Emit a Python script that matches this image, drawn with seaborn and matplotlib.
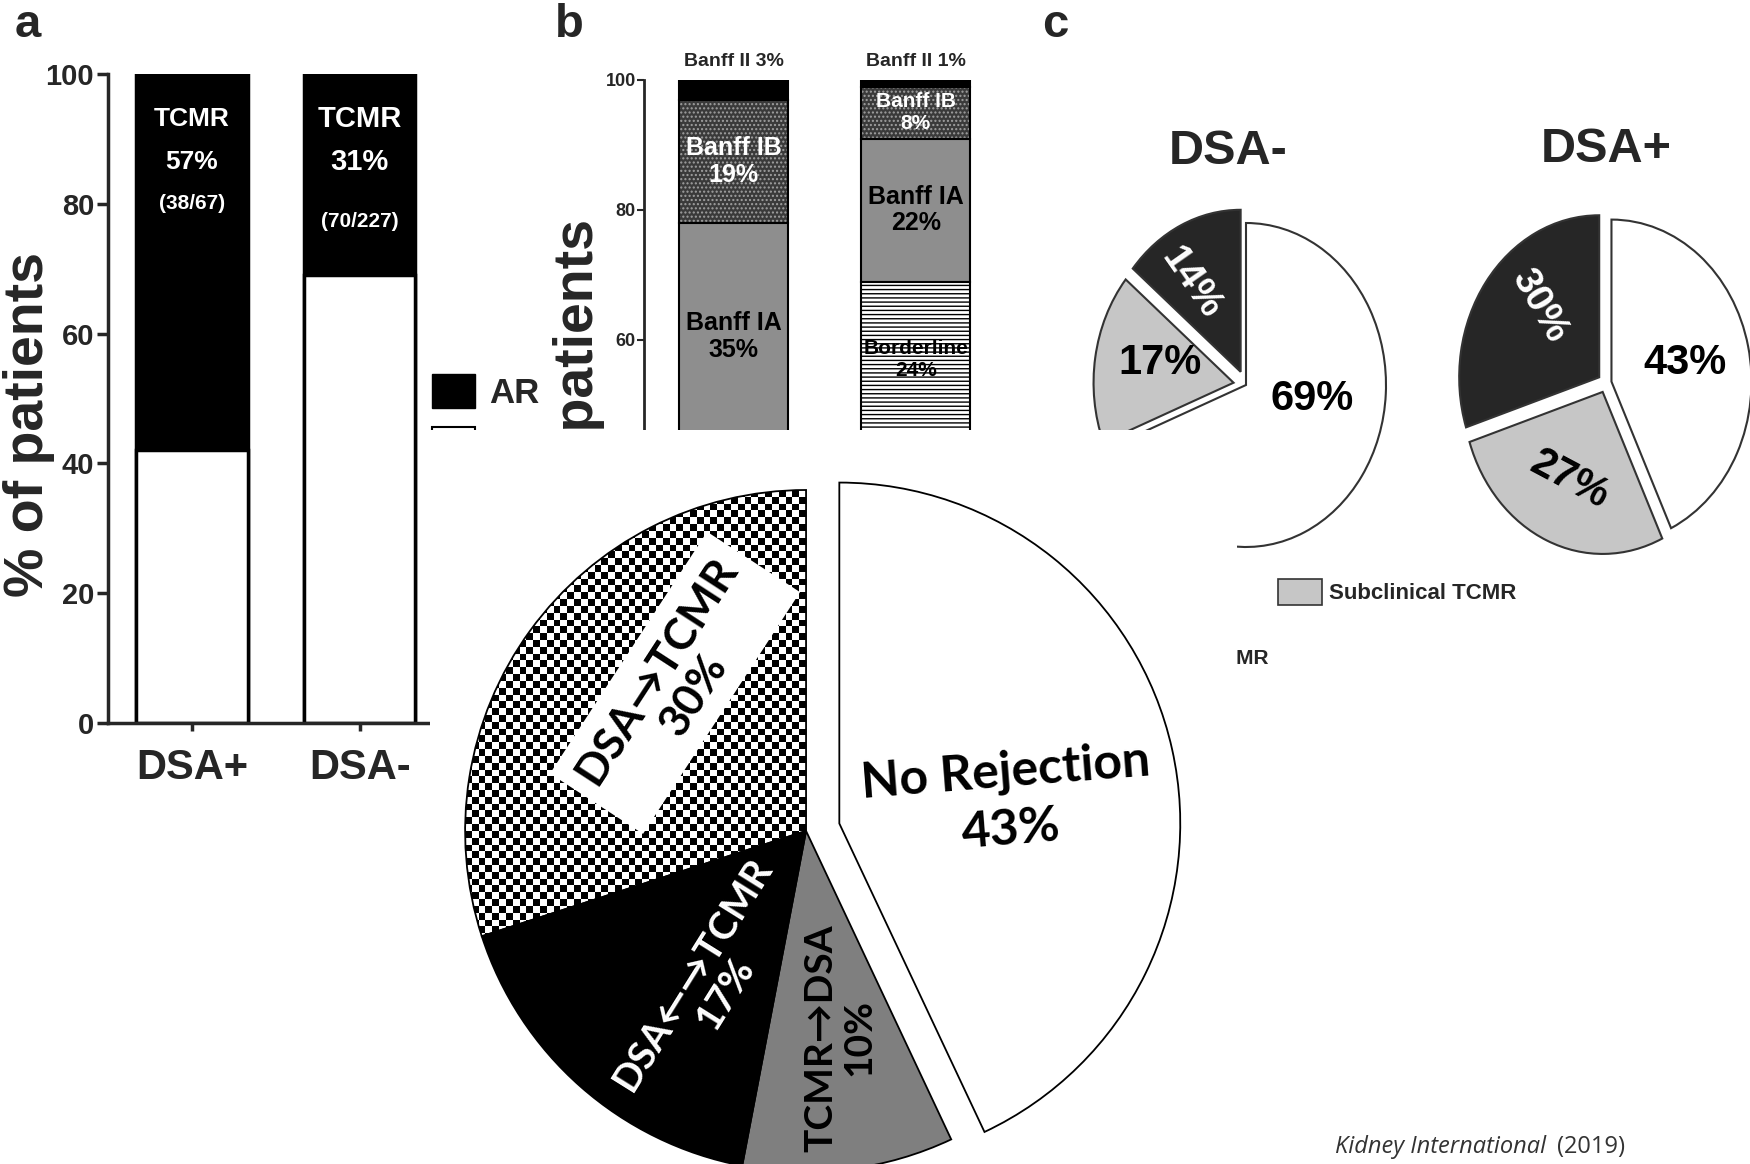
import numpy as np
import matplotlib
matplotlib.use("Agg")
import matplotlib.pyplot as plt
from matplotlib.patches import Patch
import seaborn as sns

# ---- panel a: acute rejection by DSA status ----
a_groups = ["DSA+", "DSA-"]
a_ar = [58, 31]
a_no_ar = [42, 69]
a_tcmr_pct = ["57%", "31%"]
a_tcmr_frac = ["(38/67)", "(70/227)"]

# ---- panel b: Banff grades, stacked from the top ----
b_groups = ["DSA+", "DSA-"]
b_grades = ["Banff II", "Banff IB", "Banff IA", "Borderline"]
b_dsa_pos = [3, 19, 35, 0]
b_dsa_neg = [1, 8, 22, 24]

# ---- panel c: clinical / subclinical TCMR ----
c_groups = ["DSA-", "DSA+"]
c_labels = ["No rejection", "Subclinical TCMR", "Clinical TCMR"]
c_dsa_neg = [69, 17, 14]
c_dsa_pos = [43, 27, 30]

# ---- big pie: sequence of DSA and TCMR ----
big_labels = ["No Rejection", "TCMR\u2192DSA", "DSA\u2190\u2192TCMR", "DSA\u2192TCMR"]
big_values = [43, 10, 17, 30]

sns.set_style("ticks")
plt.rcParams["font.family"] = ["Liberation Sans", "DejaVu Sans"]
plt.rcParams["font.weight"] = "bold"
plt.rcParams["axes.labelweight"] = "bold"
NARROW = ["Liberation Sans Narrow", "Liberation Sans", "DejaVu Sans"]
CALI = ["Lato", "DejaVu Sans"]

W, H = 1750, 1164
fig = plt.figure(figsize=(W / 100, H / 100), dpi=100)


def px_axes(x0, y0, x1, y1):
    return fig.add_axes([x0 / W, 1 - y1 / H, (x1 - x0) / W, (y1 - y0) / H])


def wedge_point(w, r, dtheta=0):
    ang = np.deg2rad((w.theta1 + w.theta2) / 2 + dtheta)
    cx, cy = w.center
    return cx + r * w.r * np.cos(ang), cy + r * w.r * np.sin(ang)


# ================= panel a =================
ax_a = px_axes(108, 74, 430, 723)
a_total = [r + n for r, n in zip(a_ar, a_no_ar)]
sns.barplot(x=a_groups, y=a_total, color="black", saturation=1, width=0.667,
            edgecolor="black", linewidth=2.5, errorbar=None, ax=ax_a)
sns.barplot(x=a_groups, y=a_no_ar, color="white", saturation=1, width=0.667,
            edgecolor="black", linewidth=2.5, errorbar=None, ax=ax_a)
ax_a.set_xlim(-0.5, 1.42)
ax_a.set_ylim(0, 100)
ax_a.set_yticks(range(0, 101, 20))
sns.despine(ax=ax_a)
for s in ["left", "bottom"]:
    ax_a.spines[s].set_linewidth(2.5)
ax_a.tick_params(axis="y", length=8, width=2.5, labelsize=21, pad=2)
ax_a.tick_params(axis="x", length=6, width=2.5, labelsize=30, pad=12)
ax_a.set_ylabel("% of patients", fontsize=40)
ax_a.yaxis.set_label_coords(-0.165, 0.46)
for i, tot in enumerate(a_total):
    big = 19 if i == 0 else 21
    ax_a.text(i, tot - 7, "TCMR", color="white", ha="center", va="center", fontsize=big)
    ax_a.text(i, tot - 13.6, a_tcmr_pct[i], color="white", ha="center", va="center", fontsize=big)
    ax_a.text(i, tot - (20 if i == 0 else 22.7), a_tcmr_frac[i], color="white",
              ha="center", va="center", fontsize=15)
ax_a.legend(handles=[Patch(fc="black", ec="black"), Patch(fc="white", ec="black", lw=1.5)],
            labels=["AR", "No AR"], loc="upper left", bbox_to_anchor=(432 / W, 1 - 374 / H),
            bbox_transform=fig.transFigure, frameon=False, fontsize=25, borderpad=0,
            borderaxespad=0, handlelength=1.25, handleheight=1.15, handletextpad=0.4,
            labelspacing=0.5)

# ================= panel b =================
ax_b = px_axes(644, 80, 1000, 730)
b_face = ["black", "#3a3a3a", "#8e8e8e", "white"]
b_hatch = [None, "....", None, "----"]
b_hcol = ["black", "#a0a0a0", "black", "black"]
b_tcol = ["black", "white", "black", "black"]
for i, vals in enumerate([b_dsa_pos, b_dsa_neg]):
    top = 100
    for j, v in enumerate(vals):
        if v == 0:
            continue
        bottom = top - v
        ax_b.bar(i, v, bottom=bottom, width=0.6, color=b_face[j], hatch=b_hatch[j],
                 edgecolor=b_hcol[j], linewidth=0)
        ax_b.bar(i, v, bottom=bottom, width=0.6, fill=False, edgecolor="black", linewidth=1.5)
        if j == 0:
            ax_b.text(i, 101.5, f"{b_grades[j]} {v}%", ha="center", va="bottom",
                      fontsize=14, family=NARROW)
        else:
            fs = 18 if (v >= 15 and j < 3) else 15
            ax_b.text(i, bottom + v / 2, f"{b_grades[j]}\n{v}%", ha="center", va="center",
                      color=b_tcol[j], fontsize=fs, family=NARROW, linespacing=1.15)
        top = bottom
ax_b.set_xlim(-0.494, 1.463)
ax_b.set_ylim(0, 100)
ax_b.set_yticks(range(0, 101, 20))
ax_b.set_xticks([])
for s in ["top", "right", "bottom"]:
    ax_b.spines[s].set_visible(False)
ax_b.spines["left"].set_linewidth(2)
ax_b.tick_params(axis="y", length=5, width=1.5, labelsize=13, pad=1)
for t in ax_b.get_yticklabels():
    t.set_fontfamily(NARROW)
ax_b.set_ylabel("% of patients", fontsize=40)
ax_b.yaxis.set_label_coords(-0.11, 0.52)

# ================= panel c =================
def pie_axes(cx, cy, rx=140, ry=162):
    s = 1.3
    return px_axes(cx - s * rx, cy - s * ry, cx + s * rx, cy + s * ry)


c_colors = ["white", "#c6c6c6", "#262626"]
pie_specs = [
    (c_dsa_neg, (1246, 385), [0, 0.09, 0.09], 0.45,
     [(0.48, 24, 0, "black", 30), (0.54, -4, 0, "black", 30), (0.65, 8, -55, "white", 28)]),
    (c_dsa_pos, (1606, 383), [0.04, 0.06, 0.06], 0.5,
     [(0.54, 0, 0, "black", 30), (0.59, 0, -28, "black", 30), (0.615, -10, -60, "white", 28)]),
]
c_axes = []
for k, (vals, (cx, cy), expl, tx, lab) in enumerate(pie_specs):
    ax = pie_axes(cx, cy)
    wedges, _ = ax.pie(vals, colors=c_colors, startangle=90, counterclock=False,
                       explode=expl, wedgeprops=dict(edgecolor="#333333", linewidth=1.5))
    ax.set_xlim(-1.3, 1.3)
    ax.set_ylim(-1.3, 1.3)
    ax.set_aspect("auto")
    ax.set_title(c_groups[k], fontsize=35, pad=4, x=tx, family=NARROW, fontweight="bold")
    for w, v, (r, dt, rot, col, fs) in zip(wedges, vals, lab):
        x, y = wedge_point(w, r, dt)
        ax.text(x, y, f"{v}%", ha="center", va="center", rotation=rot, color=col,
                fontsize=fs, family=NARROW)
    c_axes.append(ax)

ax_cn = c_axes[0]
ax_cn.legend(handles=[Patch(fc=c_colors[1], ec="#333333", lw=1.2)], labels=[c_labels[1]],
             loc="center left", bbox_to_anchor=(1278 / W, 1 - 592 / H),
             bbox_transform=fig.transFigure, frameon=False, borderpad=0,
             borderaxespad=0, handlelength=2.0, handleheight=1.4, handletextpad=0.3,
             prop=dict(family=NARROW, size=16, weight="bold"))
ax_cn.text(1268 / W, 1 - 658 / H, c_labels[2], transform=fig.transFigure, ha="right",
           va="center", fontsize=15, family=NARROW)

# ================= big pie (pasted over the lower middle) =================
ax_p = px_axes(430, 430, 1237, 1164)
ax_p.set_zorder(10)
ax_p.set_facecolor("white")
big_colors = ["white", "#7f7f7f", "black", "none"]
wedges, _ = ax_p.pie(big_values, colors=big_colors, startangle=90, counterclock=False,
                     explode=[0.1, 0, 0, 0], frame=True,
                     wedgeprops=dict(edgecolor="black", linewidth=1.3))
n = 100
checker = np.add.outer(np.arange(n), np.arange(n)) % 2
im = ax_p.imshow(checker, cmap="gray", extent=(-1, 1, -1, 1), interpolation="nearest", zorder=0.5)
im.set_clip_path(wedges[3])
ax_p.set_xlim(-1.103, 1.264)
ax_p.set_ylim(-0.977, 1.176)
ax_p.set_aspect("auto")
ax_p.set_xticks([])
ax_p.set_yticks([])
for s in ax_p.spines.values():
    s.set_visible(False)

big_text = [(0.5, -5, 4.5, "black", 36, 1.35, None),
            (0.615, 2, 90, "black", 28, 1.1, None),
            (0.53, 9, 58, "white", 28, 1.1, None),
            (0.58, -12.5, 57, "black", 32, 1.1, dict(fc="white", ec="none", pad=10))]
for w, lab, v, (r, dt, rot, col, fs, ls, box) in zip(wedges, big_labels, big_values, big_text):
    x, y = wedge_point(w, r, dt)
    ax_p.text(x, y, f"{lab}\n{v}%", ha="center", va="center", rotation=rot, color=col,
              fontsize=fs, family=CALI, fontweight="bold", linespacing=ls, bbox=box)

# ================= panel letters and source =================
for letter, x in [("a", 28), ("b", 569), ("c", 1055)]:
    fig.text(x / W, 1 - 25 / H, letter, fontsize=34, ha="center", va="center")
fig.text(1546 / W, 1 - 1147 / H, "Kidney International", ha="right", va="center",
         fontsize=17, style="italic", fontweight="normal", family=["Open Sans", "DejaVu Sans"],
         color="#333333")
fig.text(1557 / W, 1 - 1147 / H, "(2019)", ha="left", va="center", fontsize=17,
         fontweight="normal", family=["Open Sans", "DejaVu Sans"], color="#333333")

fig.savefig("out.png", dpi=100)
